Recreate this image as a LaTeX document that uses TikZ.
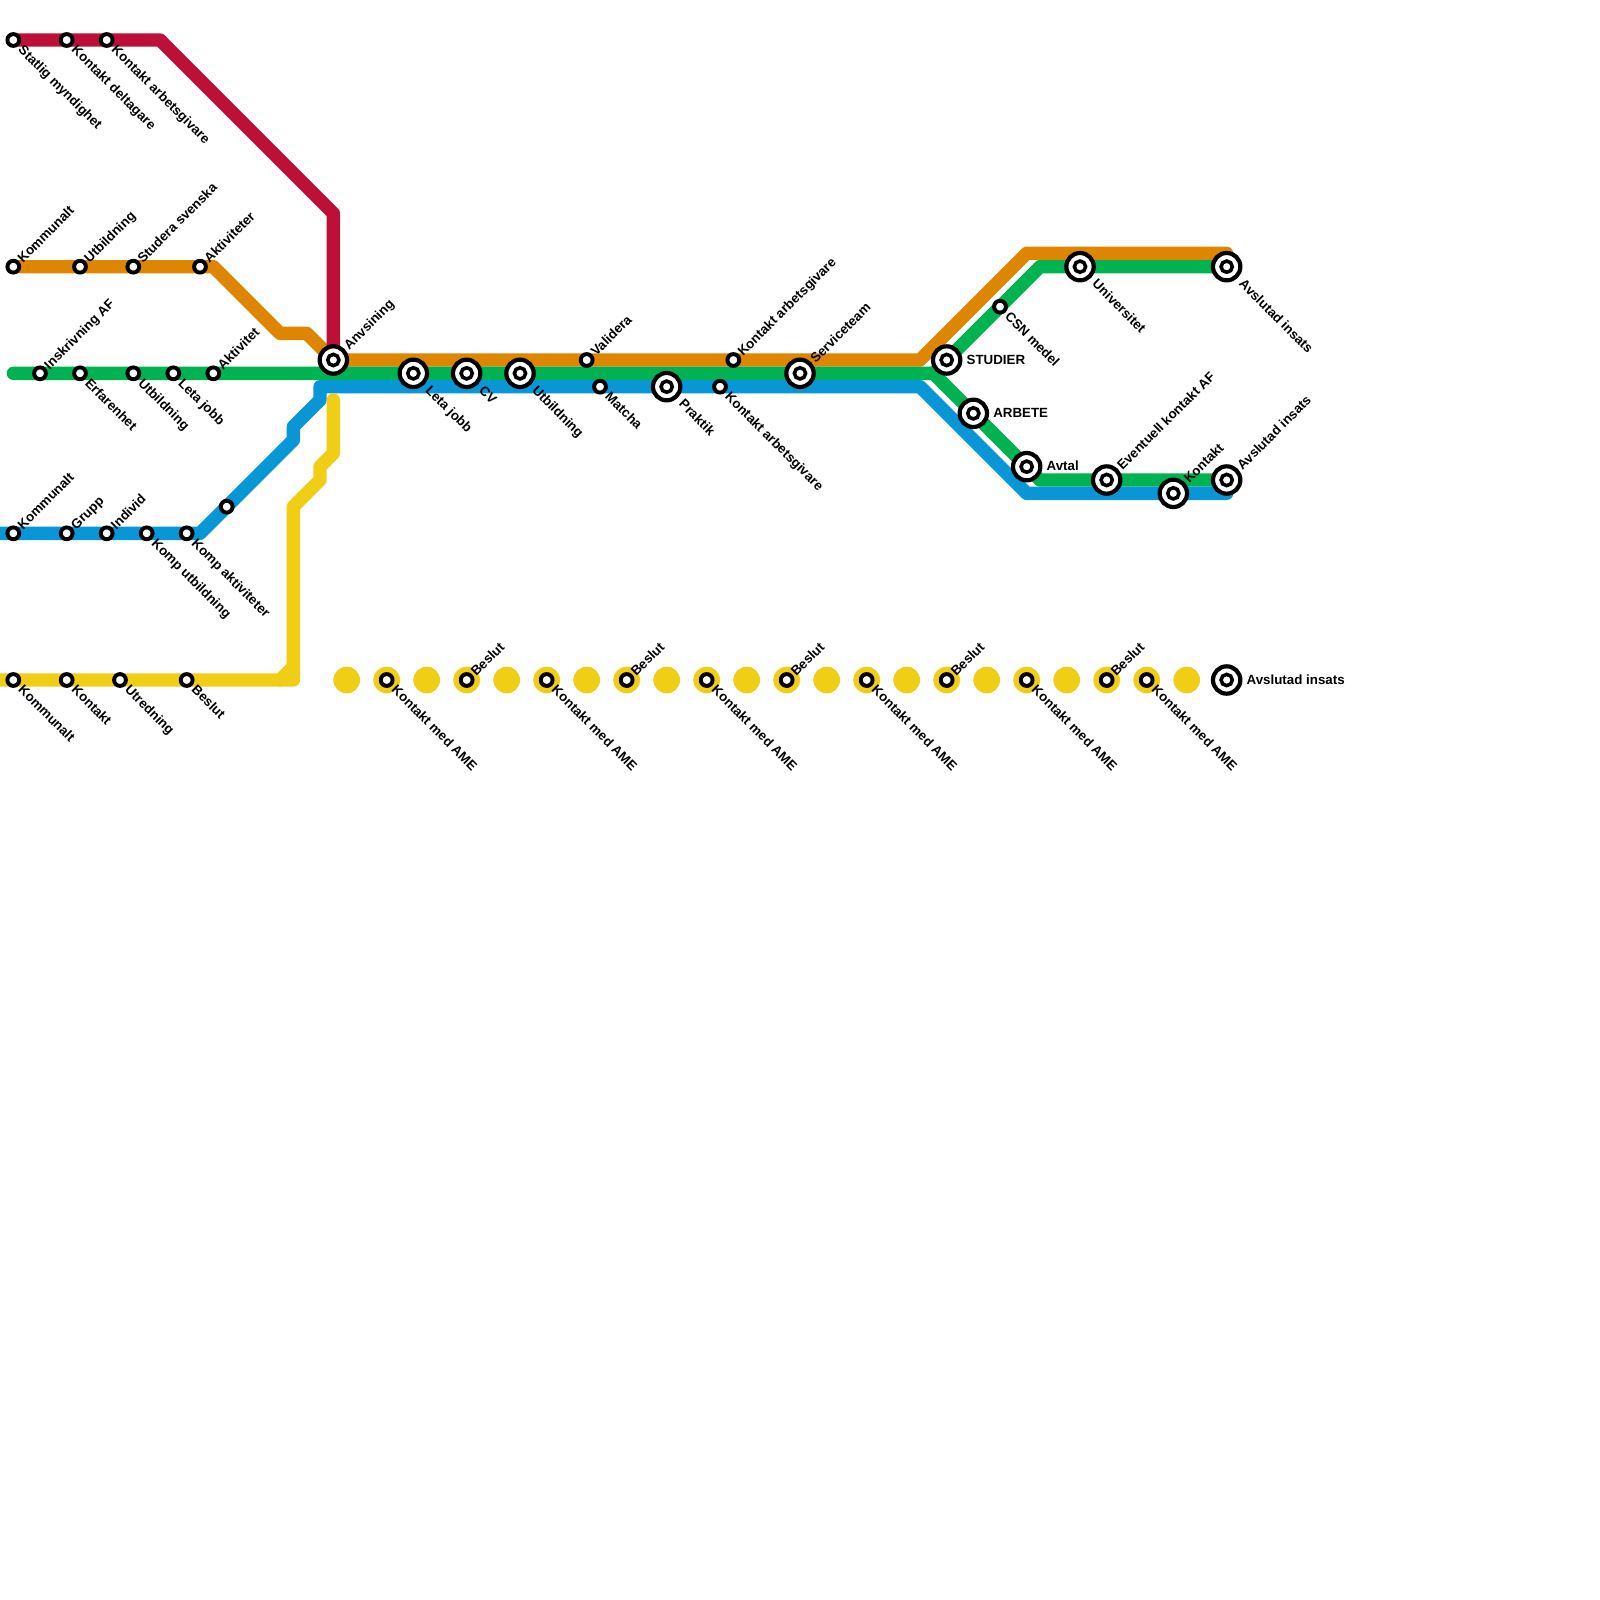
\documentclass[tikz,border=0pt]{standalone}
\usepackage{fontspec}
\setmainfont{Liberation Sans}
\definecolor{cred}{HTML}{BD1038}
\definecolor{corange}{HTML}{DF8600}
\definecolor{cgreen}{HTML}{00B251}
\definecolor{cblue}{HTML}{0896D7}
\definecolor{cyellow}{HTML}{F0CE15}
\tikzset{
  metro/.style={line width=1.0*7.113pt,line cap=round,line join=round},
  smallst/.style={circle,draw=black,fill=white,line width=2.1pt,minimum size=6.3pt,inner sep=0pt,outer sep=0pt},
  bigst/.style={circle,draw=black,fill=white,line width=2.24pt,minimum size=14.6pt,inner sep=0pt,outer sep=0pt},
  innerst/.style={circle,draw=black,fill=white,line width=1.9pt,minimum size=6pt,inner sep=0pt,outer sep=0pt},
  yeldot/.style={circle,fill=cyellow,minimum size=14.226pt,inner sep=0pt,outer sep=0pt},
  lab/.style={font=\bfseries\fontsize{7.11pt}{8pt}\selectfont,text=black,inner sep=0pt,outer sep=0pt,text height=5pt,text depth=0pt,anchor=west}
}
% #1 name, #2 x, #3 y
\newcommand\sts[3]{\node[smallst] (#1) at (#2,#3) {};}
\newcommand\stb[3]{\node[bigst] (#1) at (#2,#3) {};\node[innerst] (#1i) at (#1) {};}
% labels: #1 station name, #2 text
\newcommand\ups[2]{\node[lab,rotate=45] (#1l) at ([shift={(.48,-.48)}]#1.center) {#2};}
\newcommand\dns[2]{\node[lab,rotate=-45] (#1l) at ([shift={(.57,.57)}]#1.center) {#2};}
\newcommand\upb[2]{\node[lab,rotate=45] (#1l) at ([shift={(.95,-.95)}]#1.center) {#2};}
\newcommand\dnb[2]{\node[lab,rotate=-45] (#1l) at ([shift={(1.12,1.12)}]#1.center) {#2};}
\newcommand\rtb[2]{\node[lab] (#1l) at ([shift={(1.5,-.03)}]#1.center) {#2};}
\begin{document}
\begin{tikzpicture}[x=.25cm,y=-.25cm]
\fill[white] (0,0) rectangle (120,120);
\useasboundingbox (0,0) rectangle (120,120);
% line corners
\coordinate (ra) at (1,3);\coordinate (rb) at (12,3);\coordinate (rc) at (25,16);\coordinate (rd) at (25,27);
\coordinate (oa) at (1,20);\coordinate (ob) at (16,20);\coordinate (oc) at (21,25);\coordinate (od) at (23,25);
\coordinate (oe) at (25,27);\coordinate (of) at (69,27);\coordinate (og) at (77,19);\coordinate (oh) at (92,19);
\coordinate (ga) at (1,28);\coordinate (gb) at (70,28);\coordinate (gc) at (78,36);\coordinate (gd) at (92,36);
\coordinate (ge) at (71,27);\coordinate (gf) at (78,20);\coordinate (gg) at (92,20);
\coordinate (ba) at (0,40);\coordinate (bb) at (15,40);\coordinate (bc) at (22,33);\coordinate (bd) at (22,32);
\coordinate (be) at (24,30);\coordinate (bf) at (24,29);\coordinate (bg) at (69,29);\coordinate (bh) at (77,37);\coordinate (bi) at (92,37);
\coordinate (ya) at (0,51);\coordinate (yb) at (21,51);\coordinate (yc) at (22,50);\coordinate (yd) at (22,51);
\coordinate (ye) at (22,38);\coordinate (yf) at (24,36);\coordinate (yg) at (24,35);\coordinate (yh) at (25,34);\coordinate (yi) at (25,30);
% lines
\draw[metro,corange] (oa)--(ob)--(oc)--(od)--(oe)--(of)--(og)--(oh);
\draw[metro,cgreen] (ga)--(gb)--(gc)--(gd);
\draw[metro,cgreen] (gb)--(ge)--(gf)--(gg);
\draw[metro,cblue] (ba)--(bb)--(bc)--(bd)--(be)--(bf)--(bg)--(bh)--(bi);
\draw[metro,cred] (ra)--(rb)--(rc)--(rd);
\draw[metro,cyellow] (ya)--(yb)--(yd)--(yc)--(ye)--(yf)--(yg)--(yh)--(yi);
\draw[metro,cyellow] (yb)--(yc);
% yellow dots
\foreach \x in {26,29,32,35,38,41,44,47,50,53,56,59,62,65,68,71,74,77,80,83,86,89}
  \node[yeldot] (dot\x) at (\x,51) {};
% red stations
\sts{r1}{1}{3}\dns{r1}{Statlig myndighet}
\sts{r2}{5}{3}\dns{r2}{Kontakt deltagare}
\sts{r3}{8}{3}\dns{r3}{Kontakt arbetsgivare}
% orange stations
\sts{o1}{1}{20}\ups{o1}{Kommunalt}
\sts{o2}{6}{20}\ups{o2}{Utbildning}
\sts{o3}{10}{20}\ups{o3}{Studera svenska}
\sts{o4}{15}{20}\ups{o4}{Aktiviteter}
% green stations
\sts{g1}{3}{28}\ups{g1}{Inskrivning AF}
\sts{g2}{6}{28}\dns{g2}{Erfarenhet}
\sts{g3}{10}{28}\dns{g3}{Utbildning}
\sts{g4}{13}{28}\dns{g4}{Leta jobb}
\sts{g5}{16}{28}\ups{g5}{Aktivitet}
% blue stations
\sts{b1}{1}{40}\ups{b1}{Kommunalt}
\sts{b2}{5}{40}\ups{b2}{Grupp}
\sts{b3}{8}{40}\ups{b3}{Individ}
\sts{b4}{11}{40}\dns{b4}{Komp utbildning}
\sts{b5}{14}{40}\dns{b5}{Komp aktiviteter}
\sts{b6}{17}{38}
% yellow stations
\sts{y1}{1}{51}\dns{y1}{Kommunalt}
\sts{y2}{5}{51}\dns{y2}{Kontakt}
\sts{y3}{9}{51}\dns{y3}{Utredning}
\sts{y4}{14}{51}\dns{y4}{Beslut}
\foreach \x in {29,41,53,65,77,86}{\sts{k\x}{\x}{51}\dns{k\x}{Kontakt med AME}}
\foreach \x in {35,47,59,71,83}{\sts{s\x}{\x}{51}\ups{s\x}{Beslut}}
\stb{y9}{92}{51}\rtb{y9}{Avslutad insats}
% main trunk
\stb{m1}{25}{27}\upb{m1}{Anvsining}
\stb{m2}{31}{28}\dnb{m2}{Leta jobb}
\stb{m3}{35}{28}\dnb{m3}{CV}
\stb{m4}{39}{28}\dnb{m4}{Utbildning}
\sts{m5}{44}{27}\ups{m5}{Validera}
\sts{m6}{45}{29}\dns{m6}{Matcha}
\stb{m7}{50}{29}\dnb{m7}{Praktik}
\sts{m8}{54}{29}\dns{m8}{Kontakt arbetsgivare}
\sts{m9}{55}{27}\ups{m9}{Kontakt arbetsgivare}
\stb{m10}{60}{28}\upb{m10}{Serviceteam}
% branches
\stb{n1}{71}{27}\rtb{n1}{STUDIER}
\stb{n2}{73}{31}\rtb{n2}{ARBETE}
\stb{n3}{77}{35}\rtb{n3}{Avtal}
\sts{n4}{75}{23}\dns{n4}{CSN medel}
\stb{n5}{81}{20}\dnb{n5}{Universitet}
\stb{n6}{92}{20}\dnb{n6}{Avslutad insats}
\stb{n7}{83}{36}\upb{n7}{Eventuell kontakt AF}
\stb{n8}{88}{37}\upb{n8}{Kontakt}
\stb{n9}{92}{36}\upb{n9}{Avslutad insats}
\end{tikzpicture}
\end{document}
